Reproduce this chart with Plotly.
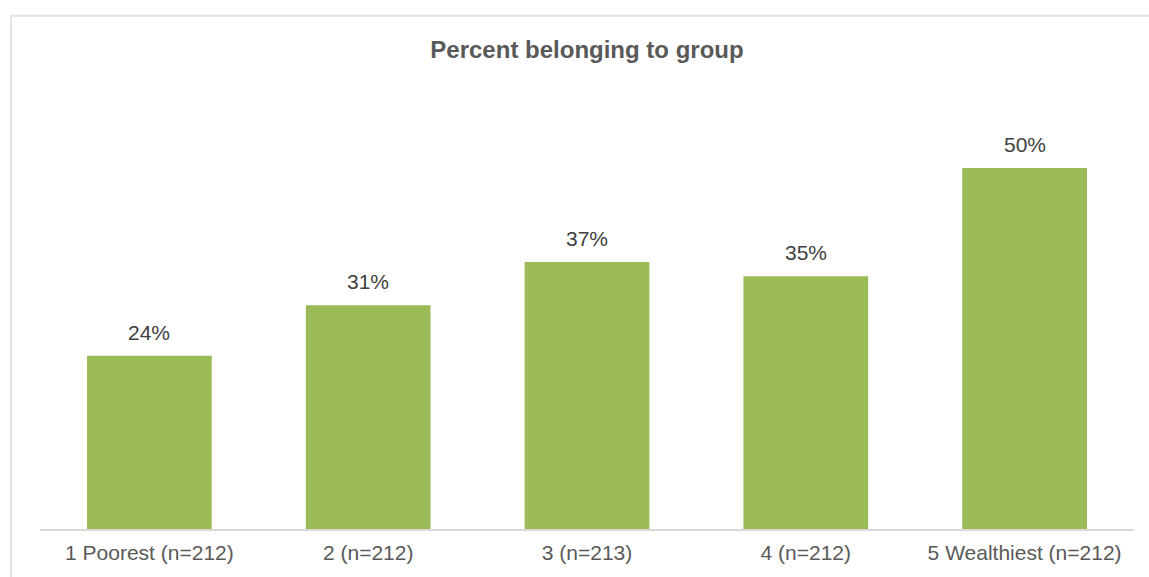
import plotly.graph_objects as go

categories = ["1 Poorest (n=212)", "2 (n=212)", "3 (n=213)", "4 (n=212)", "5 Wealthiest (n=212)"]
values = [24, 31, 37, 35, 50]
labels = ["24%", "31%", "37%", "35%", "50%"]

W, H = 1149, 577
L, R, T, B = 40, 15, 131.5, 47.5
pw, ph = W - L - R, H - T - B


def px_x(x):
    return (x - L) / pw


def px_y(y):
    return (H - B - y) / ph


fig = go.Figure()
fig.add_trace(go.Bar(
    x=categories, y=values,
    marker=dict(color="#9BBB59", line=dict(width=0)),
    hoverinfo="skip",
))

for c, v, t in zip(categories, values, labels):
    fig.add_annotation(x=c, y=v, text=t, showarrow=False, yanchor="bottom",
                       yshift=10, font=dict(size=21, color="#404040"))

fig.add_shape(type="rect", xref="paper", yref="paper",
              x0=px_x(11), x1=px_x(1152), y0=px_y(15), y1=px_y(580),
              line=dict(color="#E4E4E4", width=2), layer="below")

fig.update_layout(
    width=W, height=H,
    margin=dict(l=L, r=R, t=T, b=B, pad=0),
    paper_bgcolor="white", plot_bgcolor="white",
    font=dict(family="Liberation Sans, Arial, sans-serif", color="#595959"),
    title=dict(text="<b>Percent belonging to group</b>", x=px_x(587), xref="paper",
               xanchor="center", y=1 - 50 / H, yanchor="middle",
               font=dict(size=24, color="#595959")),
    bargap=0.43,
    showlegend=False,
    xaxis=dict(showline=True, linecolor="#D9D9D9", linewidth=2, ticks="",
               ticklabelstandoff=4,
               tickfont=dict(size=21, color="#595959"), showgrid=False),
    yaxis=dict(range=[0, 55], visible=False, showgrid=False),
)

fig.write_html("out.html")
